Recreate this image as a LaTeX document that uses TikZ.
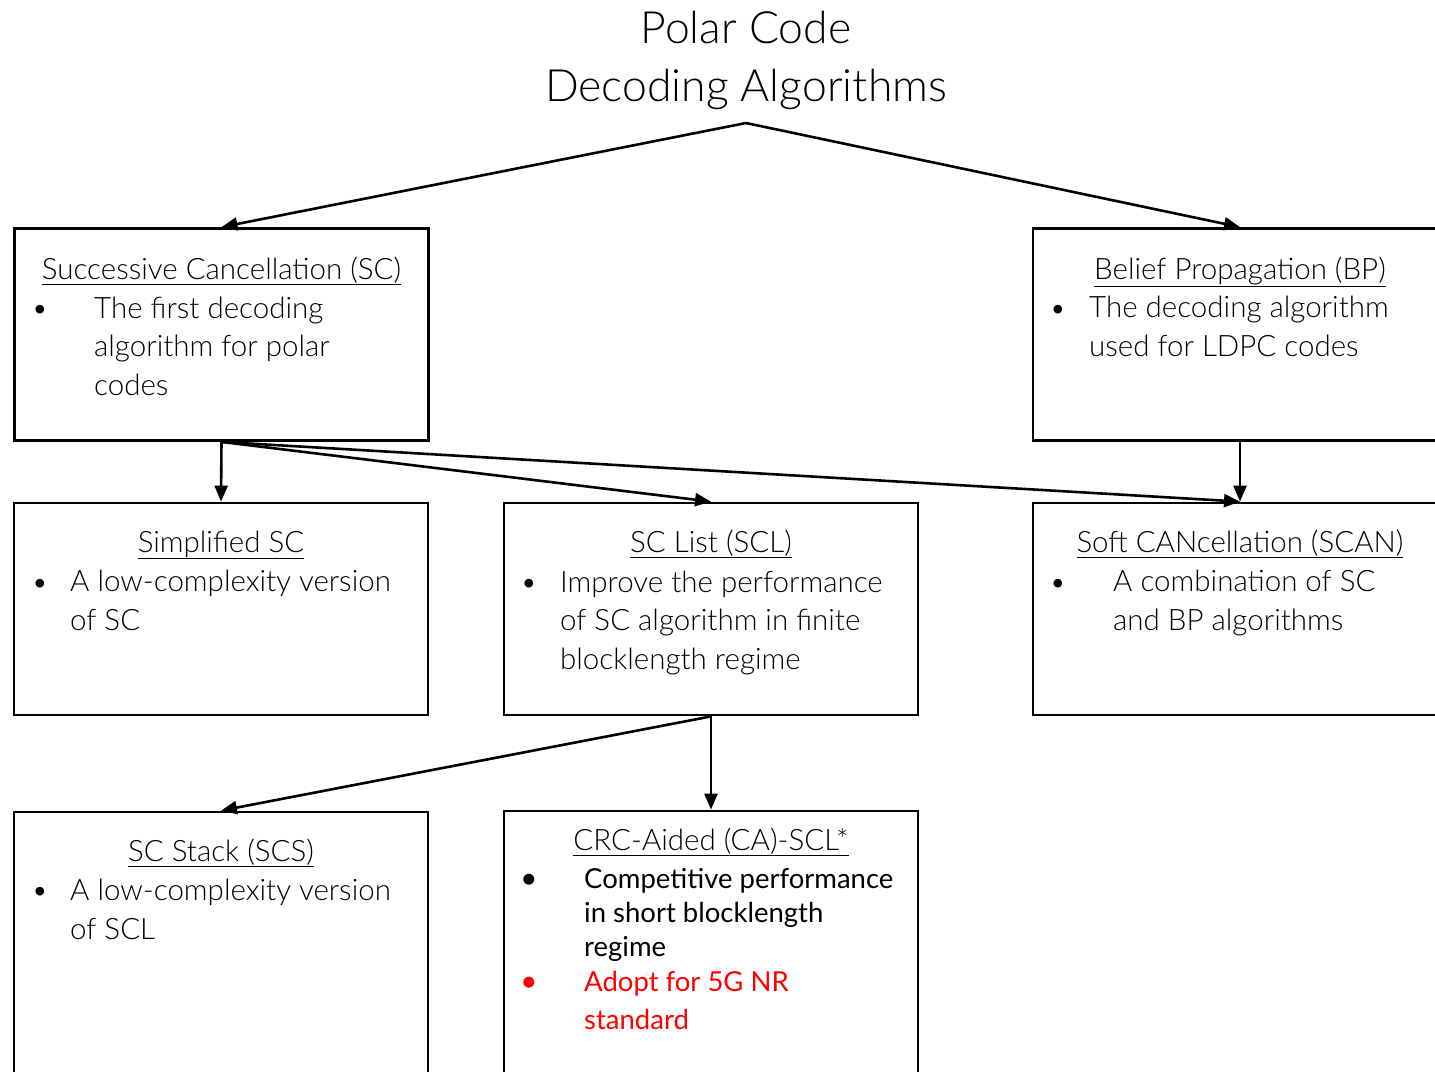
\documentclass[tikz,border=0pt]{standalone}
\usepackage{fontspec}
\setmainfont{Lato Light}
\newfontfamily\regfont{Lato}
\usetikzlibrary{arrows.meta}
\tikzset{
  box/.style={draw, line width=2.8pt, minimum width=414pt, minimum height=212pt, inner sep=0pt},
  tallbox/.style={box, minimum height=300pt},
  link/.style={line width=2.6pt, -{Triangle[length=16pt,width=13pt]}},
  head/.style={anchor=base, inner sep=0pt, font=\fontsize{29.5}{34}\selectfont},
  % multi-line text nodes are placed by the baseline of their last line
  body/.style={anchor=base west, inner sep=0pt, align=left, font=\fontsize{29.5}{38.5}\selectfont},
  dot/.style={anchor=base, inner sep=0pt, font=\fontsize{29.5}{38.5}\selectfont},
}
\begin{document}
\begin{tikzpicture}[x=1pt, y=-1pt]
\useasboundingbox (0,0) rectangle (1435,1071);
\clip (0,0) rectangle (1435,1071);
% title
\node[inner sep=0pt, align=center, anchor=base, font=\fontsize{44.5}{58}\selectfont] (title) at (746,101)
  {Polar Code\\Decoding Algorithms};
\coordinate (root) at (746,123);
% boxes
\node[box] (sc)   at (221.5,334.5) {};
\node[box] (bp)   at (1240,334.5) {};
\node[box] (ssc)  at (221,609) {};
\node[box] (scl)  at (711,609) {};
\node[box] (scan) at (1240,609) {};
\node[tallbox] (scs) at (221,962) {};
\node[tallbox] (ca)  at (711,961) {};
% connectors
\draw[link] (root) -- (sc.north);
\draw[link] (root) -- (bp.north);
\draw[link] (sc.south) -- (ssc.north);
\draw[link] (sc.south) -- (scl.north);
\draw[link] (sc.south) -- (scan.north);
\draw[link] (bp.south) -- (scan.north);
\draw[link] (scl.south) -- (scs.north);
\draw[link] (scl.south) -- (ca.north);
% Successive Cancellation
\node[head] (sct) at (221.5,279) {\underline{Successive Cancellation (SC)}};
\node[dot] (scd) at (40,318) {\textbullet};
\node[body] (scb) at (94,395) {The first decoding\\algorithm for polar\\codes};
% Belief Propagation
\node[head] (bpt) at (1240,279) {\underline{Belief Propagation (BP)}};
\node[dot] (bpd) at (1058,318) {\textbullet};
\node[body] (bpb) at (1089,356) {The decoding algorithm\\used for LDPC codes};
% Simplified SC
\node[head] (ssct) at (221,552) {\underline{Simplified SC}};
\node[dot] (sscd) at (40,592) {\textbullet};
\node[body] (sscb) at (70,630) {A low-complexity version\\of SC};
% SC List
\node[head] (sclt) at (711,552) {\underline{SC List (SCL)}};
\node[dot] (scld) at (529,592) {\textbullet};
\node[body] (sclb) at (560,669) {Improve the performance\\of SC algorithm in finite\\blocklength regime};
% Soft Cancellation
\node[head] (scant) at (1240,552) {\underline{Soft CANcellation (SCAN)}};
\node[dot] (scand) at (1058,592) {\textbullet};
\node[body] (scanb) at (1113,630) {A combination of SC\\and BP algorithms};
% SC Stack
\node[head] (scst) at (221,861) {\underline{SC Stack (SCS)}};
\node[dot] (scsd) at (40,900) {\textbullet};
\node[body] (scsb) at (70,939) {A low-complexity version\\of SCL};
% CRC-aided SCL
\node[head] (cat) at (711,850) {\underline{CRC-Aided (CA)-SCL*}};
\node[dot] (cad1) at (529,888) {\regfont\textbullet};
\node[body, font=\regfont\fontsize{27.5}{34}\selectfont] (cab1) at (584,956)
  {Competitive performance\\in short blocklength\\regime};
\node[dot, text=red] (cad2) at (529,991) {\regfont\textbullet};
\node[body, text=red, font=\regfont\fontsize{27.5}{38}\selectfont] (cab2) at (584,1029)
  {Adopt for 5G NR\\standard};
\end{tikzpicture}
\end{document}
